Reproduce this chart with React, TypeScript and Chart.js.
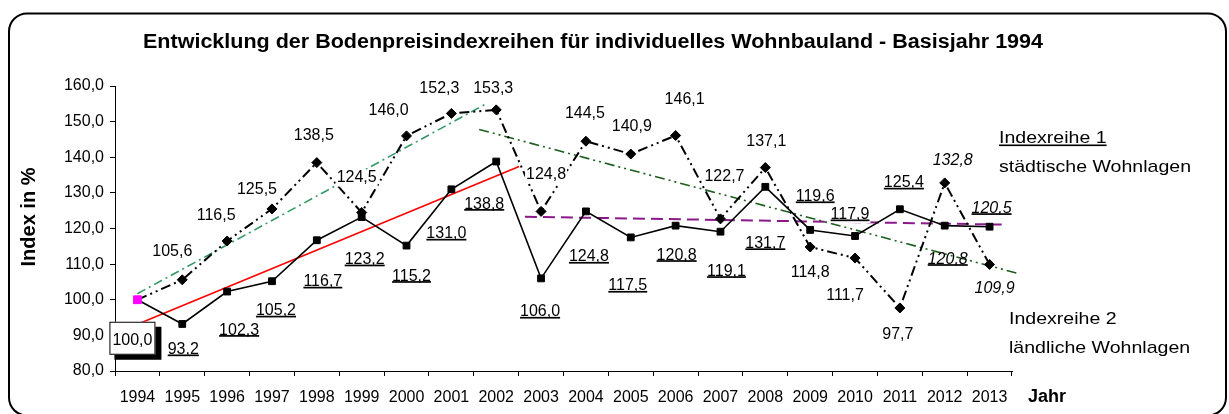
import React, { useEffect, useRef } from 'react';
import { Chart, registerables } from 'chart.js';

Chart.register(...registerables);

const FONT = '"Liberation Sans", Arial, sans-serif';

// ---- data ----
const years = ['1994', '1995', '1996', '1997', '1998', '1999', '2000', '2001', '2002', '2003', '2004', '2005', '2006', '2007', '2008', '2009', '2010', '2011', '2012', '2013'];
// Indexreihe 1 – städtische Wohnlagen (squares, underlined labels)
const staedtisch = [100.0, 93.2, 102.3, 105.2, 116.7, 123.2, 115.2, 131.0, 138.8, 106.0, 124.8, 117.5, 120.8, 119.1, 131.7, 119.6, 117.9, 125.4, 120.8, 120.5];
// Indexreihe 2 – ländliche Wohnlagen (diamonds)
const laendlich = [100.0, 105.6, 116.5, 125.5, 138.5, 124.5, 146.0, 152.3, 153.3, 124.8, 144.5, 140.9, 146.1, 122.7, 137.1, 114.8, 111.7, 97.7, 132.8, 109.9];

// trend lines (x = position in category units, 0 = 1994)
const trendL1X = [0, 7.79];
const trendL1Y = [101.7, 155.1];
const trendS1X = [0, 8.51];
const trendS1Y = [93.1, 137.4];
const trendL2X = [7.62, 19.6];
const trendL2Y = [147.8, 107.5];
const trendS2X = [8.64, 19.27];
const trendS2Y = [123.3, 121.1];

const yMin = 80;
const yMax = 160;
const yStep = 10;

const title = 'Entwicklung der Bodenpreisindexreihen für individuelles Wohnbauland - Basisjahr 1994';
const yTitle = 'Index in %';
const xTitle = 'Jahr';
const legend1 = ['Indexreihe 1', 'städtische Wohnlagen'];
const legend2 = ['Indexreihe 2', 'ländliche Wohnlagen'];

// ---- label placement (pixel offsets from the point) ----
const sLabelDx = [0, 1, 12, 4, 6, 3, 5, -5, -12, -1, 3, -3, 1, 6, 0, 5, -5, 4, 3, 2];
const sLabelDy = [0, 24, 37, 28, 40, 41, 29, 43, 41, 32, 44, 47, 28, 38, 55, -35, -23, -28, 32, -20];
const lLabelDx = [0, -10, -11, -15, -3, -5, -18, -12, -3, 5, -1, 1, 9, 4, 1, 0, -10, -2, 8, 5];
const lLabelDy = [0, -30, -27, -21, -29, -36, -27, -26, -23, -38, -29, -29, -38, -44, -28, 24, 36, 25, -24, 23];
const italicFrom = 18;

const fmt = (v: number) => v.toFixed(1).replace('.', ',');

function drawValueLabel(ctx: CanvasRenderingContext2D, text: string, cx: number, cy: number, italic: boolean, underline: boolean) {
  ctx.save();
  ctx.font = `${italic ? 'italic ' : ''}16px ${FONT}`;
  const w = ctx.measureText(text).width;
  const base = cy + 6;
  if (!italic) {
    ctx.fillStyle = '#ffffff';
    ctx.fillRect(cx - w / 2 - 1, base - 13, w + 2, 17);
  }
  ctx.fillStyle = '#000000';
  ctx.textAlign = 'center';
  ctx.textBaseline = 'alphabetic';
  ctx.fillText(text, cx, base);
  if (underline) ctx.fillRect(cx - w / 2, base + 0.5, w, 1.7);
  ctx.restore();
}

function drawText(ctx: CanvasRenderingContext2D, text: string, x: number, y: number, font: string, align: CanvasTextAlign, scaleX = 1) {
  ctx.save();
  ctx.font = font;
  ctx.textAlign = align;
  ctx.textBaseline = 'alphabetic';
  ctx.fillStyle = '#000000';
  ctx.translate(x, y);
  ctx.scale(scaleX, 1);
  ctx.fillText(text, 0, 0);
  ctx.restore();
}

const annotate = {
  id: 'annotate',
  afterDatasetsDraw(chart: any) {
    const ctx: CanvasRenderingContext2D = chart.ctx;
    const metaS = chart.getDatasetMeta(0);
    const metaL = chart.getDatasetMeta(1);
    for (let i = 1; i < years.length; i++) {
      const p = metaL.data[i];
      drawValueLabel(ctx, fmt(laendlich[i]), p.x + lLabelDx[i], p.y + lLabelDy[i], i >= italicFrom, false);
    }
    for (let i = 1; i < years.length; i++) {
      const p = metaS.data[i];
      drawValueLabel(ctx, fmt(staedtisch[i]), p.x + sLabelDx[i], p.y + sLabelDy[i], i >= italicFrom, true);
    }
    // boxed label for the base year
    const p0 = metaS.data[0];
    const bx = p0.x - 28;
    const by = p0.y + 22;
    ctx.save();
    ctx.fillStyle = '#000';
    ctx.fillRect(bx + 5, by + 5, 47, 33);
    ctx.fillStyle = '#fff';
    ctx.fillRect(bx, by, 46, 33);
    ctx.strokeStyle = '#000';
    ctx.lineWidth = 1;
    ctx.strokeRect(bx + 0.5, by + 0.5, 45, 32);
    ctx.restore();
    drawText(ctx, fmt(staedtisch[0]), bx + 23, by + 23, `16px ${FONT}`, 'center');
  },
  afterDraw(chart: any) {
    const ctx: CanvasRenderingContext2D = chart.ctx;
    // title
    ctx.save();
    ctx.font = `bold 20px ${FONT}`;
    const tw = ctx.measureText(title).width;
    ctx.restore();
    drawText(ctx, title, 593, 48, `bold 20px ${FONT}`, 'center', 900 / tw);
    // y title
    ctx.save();
    ctx.translate(35, 217);
    ctx.rotate(-Math.PI / 2);
    drawText(ctx, yTitle, 0, 0, `bold 20px ${FONT}`, 'center');
    ctx.restore();
    // x title
    drawText(ctx, xTitle, 1028, 402, `bold 18px ${FONT}`, 'left');
    // legend texts
    const lf = `17px ${FONT}`;
    drawText(ctx, legend1[0], 999, 143, lf, 'left', 1.15);
    ctx.save();
    ctx.font = lf;
    const uw = ctx.measureText(legend1[0]).width * 1.15;
    ctx.fillStyle = '#000';
    ctx.fillRect(999, 144.5, uw, 1.6);
    ctx.restore();
    drawText(ctx, legend1[1], 999, 171.5, lf, 'left', 1.15);
    drawText(ctx, legend2[0], 1009, 323.5, lf, 'left', 1.15);
    drawText(ctx, legend2[1], 1009, 352.5, lf, 'left', 1.15);
    // rounded frame
    ctx.save();
    ctx.strokeStyle = '#000';
    ctx.lineWidth = 2;
    ctx.beginPath();
    (ctx as any).roundRect(9, 13.5, 1217, 402, 18);
    ctx.stroke();
    ctx.restore();
  },
};

const pts = (xs: number[], ys: number[]) => xs.map((x, i) => ({ x, y: ys[i] }));

export default function App() {
  const ref = useRef<HTMLCanvasElement>(null);
  useEffect(() => {
    const black = '#000000';
    const chart = new Chart(ref.current as HTMLCanvasElement, {
      type: 'line',
      data: {
        labels: years,
        datasets: [
          {
            label: legend1[1],
            data: staedtisch,
            borderColor: black,
            borderWidth: 1.6,
            pointStyle: 'rect',
            pointRadius: staedtisch.map((_, i) => (i === 0 ? 5.5 : 4.8)),
            pointBackgroundColor: staedtisch.map((_, i) => (i === 0 ? '#ff00ff' : black)),
            pointBorderColor: staedtisch.map((_, i) => (i === 0 ? '#ff00ff' : black)),
            pointBorderWidth: 1,
            tension: 0,
          },
          {
            label: legend2[1],
            data: laendlich,
            borderColor: black,
            borderWidth: 2,
            borderDash: [10, 4, 2, 4, 2, 4],
            pointStyle: 'rectRot',
            pointRadius: laendlich.map((_, i) => (i === 0 ? 0 : 5)),
            pointBackgroundColor: black,
            pointBorderColor: black,
            pointBorderWidth: 1,
            tension: 0,
          },
          {
            label: 'Trend ländlich 1994-2002',
            data: pts(trendL1X, trendL1Y),
            xAxisID: 'x2',
            borderColor: '#339966',
            borderWidth: 1.6,
            borderDash: [9, 4, 2, 4],
            pointRadius: 0,
          },
          {
            label: 'Trend städtisch 1994-2002',
            data: pts(trendS1X, trendS1Y),
            xAxisID: 'x2',
            borderColor: '#ff0000',
            borderWidth: 1.6,
            pointRadius: 0,
          },
          {
            label: 'Trend ländlich 2002-2013',
            data: pts(trendL2X, trendL2Y),
            xAxisID: 'x2',
            borderColor: '#1d5e1d',
            borderWidth: 1.6,
            borderDash: [10, 4, 2, 4, 2, 4],
            pointRadius: 0,
            clip: false,
          },
          {
            label: 'Trend städtisch 2003-2013',
            data: pts(trendS2X, trendS2Y),
            xAxisID: 'x2',
            borderColor: '#8a1a8a',
            borderWidth: 2,
            borderDash: [12, 6],
            pointRadius: 0,
          },
        ] as any,
      },
      options: {
        responsive: false,
        animation: false,
        devicePixelRatio: 1,
        layout: { padding: { left: 55, right: 217, top: 86, bottom: 3 } },
        plugins: { legend: { display: false }, title: { display: false }, tooltip: { enabled: false } },
        events: [],
        scales: {
          x: {
            type: 'category',
            offset: true,
            grid: { offset: true, drawOnChartArea: false, drawTicks: true, tickLength: 5, color: black },
            border: { display: true, color: black, width: 1 },
            ticks: { color: black, font: { family: FONT, size: 16 }, padding: 12, autoSkip: false, maxRotation: 0 },
            afterFit: (s: any) => { s.height = 40; },
          },
          x2: {
            type: 'linear',
            display: false,
            min: -0.5,
            max: 19.5,
          },
          y: {
            min: yMin,
            max: yMax,
            ticks: { stepSize: yStep, color: black, font: { family: FONT, size: 16 }, padding: 6, callback: (v: any) => fmt(Number(v)) },
            grid: { drawOnChartArea: false, drawTicks: true, tickLength: 5, color: black },
            border: { display: true, color: black, width: 1 },
            afterFit: (s: any) => { s.width = 60; },
          },
        },
      } as any,
      plugins: [annotate],
    });
    return () => chart.destroy();
  }, []);
  return (
    <div style={{ position: 'fixed', left: 0, top: 0, width: 1229, height: 414, background: '#fff' }}>
      <canvas ref={ref} width={1229} height={414} style={{ display: 'block', width: 1229, height: 414 }} />
    </div>
  );
}
